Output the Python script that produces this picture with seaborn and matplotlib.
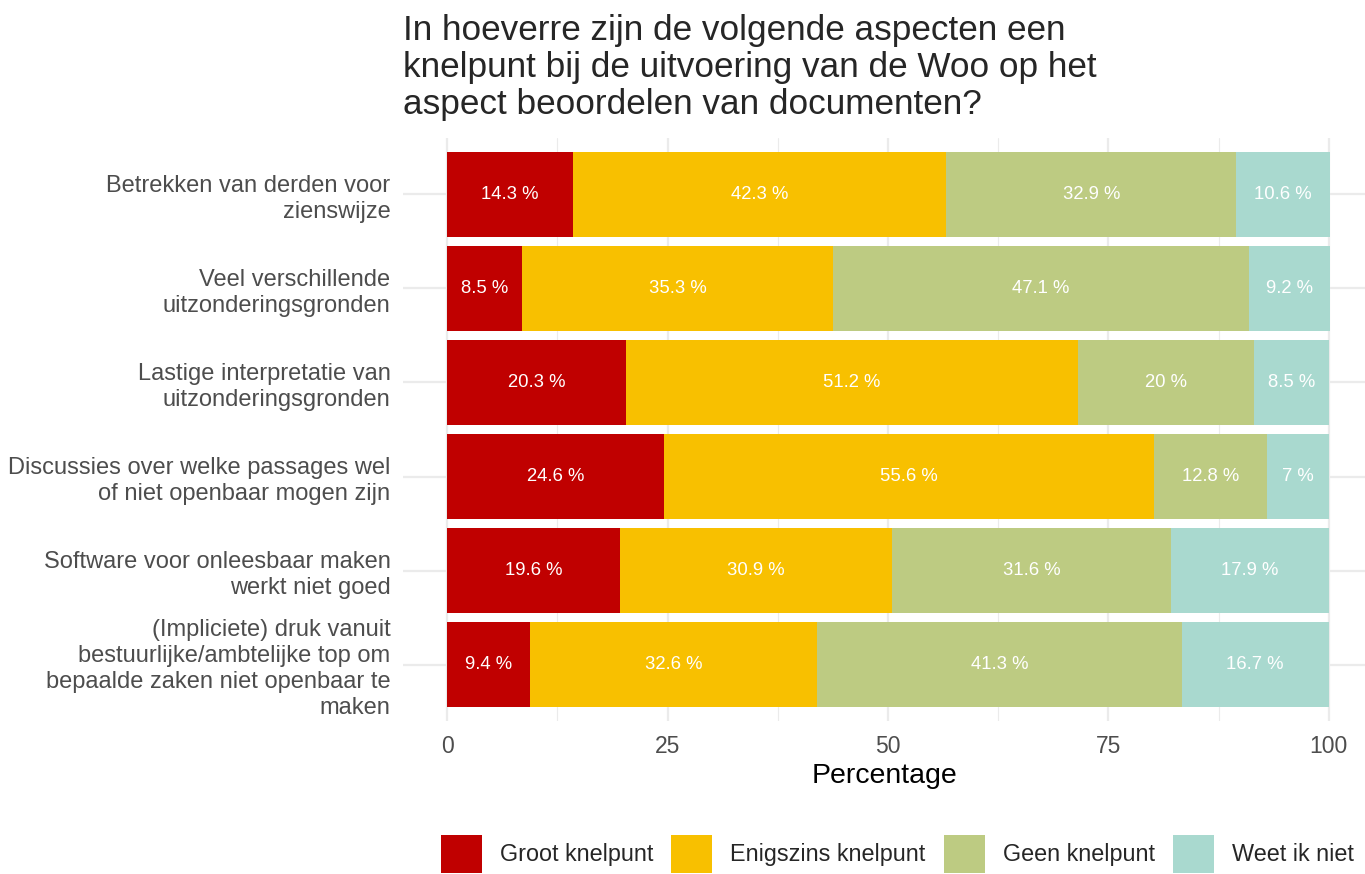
import matplotlib.pyplot as plt
import numpy as np
import pandas as pd
import seaborn as sns
from matplotlib.patches import Patch
from matplotlib.ticker import MultipleLocator

aspecten = [
    "Betrekken van derden voor\nzienswijze",
    "Veel verschillende\nuitzonderingsgronden",
    "Lastige interpretatie van\nuitzonderingsgronden",
    "Discussies over welke passages wel\nof niet openbaar mogen zijn",
    "Software voor onleesbaar maken\nwerkt niet goed",
    "(Impliciete) druk vanuit\nbestuurlijke/ambtelijke top om\nbepaalde zaken niet openbaar te\nmaken",
]
groot = [14.3, 8.5, 20.3, 24.6, 19.6, 9.4]
enigszins = [42.3, 35.3, 51.2, 55.6, 30.9, 32.6]
geen = [32.9, 47.1, 20.0, 12.8, 31.6, 41.3]
weet_niet = [10.6, 9.2, 8.5, 7.0, 17.9, 16.7]

categorieen = ["Groot knelpunt", "Enigszins knelpunt", "Geen knelpunt", "Weet ik niet"]
kleuren = ["#C00000", "#F8C000", "#BDCB82", "#A9D9CF"]

df = pd.DataFrame({
    "aspect": aspecten,
    "Groot knelpunt": groot,
    "Enigszins knelpunt": enigszins,
    "Geen knelpunt": geen,
    "Weet ik niet": weet_niet,
})
cum = df[categorieen].cumsum(axis=1)

sns.set_theme(style="whitegrid")
plt.rcParams['font.family'] = ['Liberation Sans', 'DejaVu Sans']

fig = plt.figure(figsize=(13.65, 8.74), dpi=100)
ax = fig.add_axes([403 / 1365, 1 - 721 / 874, (1365 - 403) / 1365, (721 - 138) / 874])

# stacked bars: draw cumulative totals from the back to the front
for cat, kleur in reversed(list(zip(categorieen, kleuren))):
    sns.barplot(data=cum.assign(aspect=df["aspect"]), x=cat, y="aspect",
                order=aspecten, color=kleur, width=0.9, saturation=1,
                orient="h", ax=ax, linewidth=0)

for i, a in enumerate(aspecten):
    for cat in categorieen:
        v = df.loc[i, cat]
        mid = cum.loc[i, cat] - v / 2
        ax.text(mid, i, f"{v:g} %", ha="center", va="center", color="white", fontsize=13.3)

ax.set_xlim(-5, 104.1)
ax.set_ylim(len(aspecten) - 0.4, -0.6)
ax.set_xticks([0, 25, 50, 75, 100])
ax.set_xticklabels(["0", "25", "50", "75", "100"])
ax.xaxis.set_minor_locator(MultipleLocator(12.5))
ax.grid(which="major", color="#EBEBEB", linewidth=1.6)
ax.grid(which="minor", axis="x", color="#EBEBEB", linewidth=0.8)
ax.set_axisbelow(True)
for s in ax.spines.values():
    s.set_visible(False)
ax.tick_params(axis="both", which="both", length=0, colors="#4D4D4D")
ax.tick_params(axis="y", labelsize=17, pad=9)
ax.tick_params(axis="x", labelsize=16.5, pad=10)
for lbl in ax.get_yticklabels():
    lbl.set_linespacing(1.22)
ax.set_ylabel("")
ax.set_xlabel("Percentage", fontsize=20.5, color="black", labelpad=4)

fig.text(403 / 1365, 1 - 14 / 874,
         "In hoeverre zijn de volgende aspecten een\nknelpunt bij de uitvoering van de Woo op het\naspect beoordelen van documenten?",
         ha="left", va="top", fontsize=25.3, linespacing=1.15)

handles = [Patch(facecolor=k, edgecolor="none", label=c) for c, k in zip(categorieen, kleuren)]
fig.legend(handles=handles, loc="upper left", bbox_to_anchor=(441 / 1365, 1 - 835 / 874),
           ncol=4, frameon=False, fontsize=16.8, handlelength=1.76, handleheight=2.1,
           columnspacing=0.77, handletextpad=0.77, borderpad=0, borderaxespad=0)

fig.savefig("out.png", dpi=100)
